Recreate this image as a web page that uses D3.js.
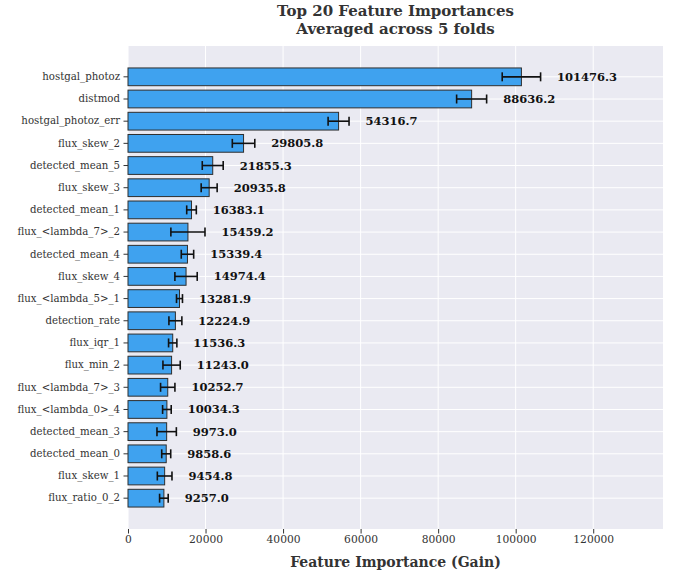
<!DOCTYPE html>
<html>
<head>
<meta charset="utf-8">
<script src="https://cdn.jsdelivr.net/npm/d3@7"></script>
<style>
  html, body { margin: 0; padding: 0; background: #ffffff; }
  svg { display: block; font-family: "DejaVu Serif", serif; }
  svg text { font-family: "DejaVu Serif", serif; }
</style>
</head>
<body>
<svg id="chart" width="678" height="576"></svg>
<script>
// Feature importances (gain), averaged over 5 CV folds, with fold std
const features = [
  "hostgal_photoz", "distmod", "hostgal_photoz_err", "flux_skew_2",
  "detected_mean_5", "flux_skew_3", "detected_mean_1", "flux_<lambda_7>_2",
  "detected_mean_4", "flux_skew_4", "flux_<lambda_5>_1", "detection_rate",
  "flux_iqr_1", "flux_min_2", "flux_<lambda_7>_3", "flux_<lambda_0>_4",
  "detected_mean_3", "detected_mean_0", "flux_skew_1", "flux_ratio_0_2"
];
const meanGain = [
  101476.3, 88636.2, 54316.7, 29805.8,
  21855.3, 20935.8, 16383.1, 15459.2,
  15339.4, 14974.4, 13281.9, 12224.9,
  11536.3, 11243.0, 10252.7, 10034.3,
  9973.0, 9858.6, 9454.8, 9257.0
];
const stdGain = [
  4950, 3870, 2700, 2900,
  2700, 2060, 1240, 4400,
  1600, 2880, 770, 1670,
  1070, 2230, 1850, 1110,
  2500, 1160, 1890, 1110
];
const xTicks = [0, 20000, 40000, 60000, 80000, 100000, 120000];

const svg = d3.select("#chart");
const m = { left: 128, right: 663, top: 46, bottom: 529 };

const x = d3.scaleLinear().domain([0, 138000]).range([m.left, m.right]);
const y = d3.scaleBand().domain(features).range([m.top, m.bottom])
  .paddingInner(0.2).paddingOuter(0.99);

// plot background
svg.append("rect")
  .attr("x", m.left).attr("y", m.top)
  .attr("width", m.right - m.left).attr("height", m.bottom - m.top)
  .attr("fill", "#eaeaf2");

// grid
const grid = svg.append("g").attr("stroke", "#ffffff").attr("stroke-width", 1);
grid.selectAll("line.v").data(xTicks).join("line")
  .attr("class", "v")
  .attr("x1", d => x(d)).attr("x2", d => x(d))
  .attr("y1", m.top).attr("y2", m.bottom);
grid.selectAll("line.h").data(features).join("line")
  .attr("class", "h")
  .attr("x1", m.left).attr("x2", m.right)
  .attr("y1", d => y(d) + y.bandwidth() / 2).attr("y2", d => y(d) + y.bandwidth() / 2);

// bars
svg.append("g").selectAll("rect").data(features).join("rect")
  .attr("x", x(0))
  .attr("y", d => y(d))
  .attr("width", (d, i) => x(meanGain[i]) - x(0))
  .attr("height", y.bandwidth())
  .attr("fill", "#3fa2ef")
  .attr("stroke", "#2e2e2e")
  .attr("stroke-width", 1);

// error bars
const err = svg.append("g").attr("stroke", "#111").attr("stroke-width", 1.6);
features.forEach((f, i) => {
  const cy = y(f) + y.bandwidth() / 2;
  const lo = x(meanGain[i] - stdGain[i]);
  const hi = x(meanGain[i] + stdGain[i]);
  err.append("line").attr("x1", lo).attr("x2", hi).attr("y1", cy).attr("y2", cy);
  err.append("line").attr("x1", lo).attr("x2", lo).attr("y1", cy - 4.5).attr("y2", cy + 4.5);
  err.append("line").attr("x1", hi).attr("x2", hi).attr("y1", cy - 4.5).attr("y2", cy + 4.5);
});

// value labels
svg.append("g").selectAll("text").data(features).join("text")
  .attr("x", (d, i) => x(meanGain[i] + stdGain[i]) + 16.5)
  .attr("y", d => y(d) + y.bandwidth() / 2)
  .attr("dy", "0.35em")
  .attr("font-size", "11.5px")
  .attr("font-weight", "bold")
  .attr("fill", "#111")
  .text((d, i) => meanGain[i].toFixed(1));

// axes
const xAxis = svg.append("g")
  .attr("transform", `translate(0,${m.bottom})`)
  .call(d3.axisBottom(x).tickValues(xTicks).tickFormat(d3.format("d")).tickSize(4.5).tickPadding(2));
xAxis.select(".domain").remove();
xAxis.attr("font-family", null);
xAxis.selectAll("line").attr("stroke", "#333");
xAxis.selectAll("text").attr("font-size", "10.7px").attr("fill", "#333");

const yAxis = svg.append("g")
  .attr("transform", `translate(${m.left},0)`)
  .call(d3.axisLeft(y).tickSize(4.5).tickPadding(3.5));
yAxis.select(".domain").remove();
yAxis.attr("font-family", null);
yAxis.selectAll("line").attr("stroke", "#333");
yAxis.selectAll("text").attr("font-size", "10.2px").attr("fill", "#333");

// axis title
svg.append("text")
  .attr("x", (m.left + m.right) / 2).attr("y", 566.5)
  .attr("text-anchor", "middle")
  .attr("font-size", "14px").attr("font-weight", "bold").attr("fill", "#333")
  .text("Feature Importance (Gain)");

// chart title, two lines
const title = svg.append("text")
  .attr("x", (m.left + m.right) / 2).attr("text-anchor", "middle")
  .attr("font-size", "15px").attr("font-weight", "bold").attr("fill", "#333");
title.append("tspan").attr("x", (m.left + m.right) / 2).attr("y", 16.3).text("Top 20 Feature Importances");
title.append("tspan").attr("x", (m.left + m.right) / 2).attr("y", 34).text("Averaged across 5 folds");
</script>
</body>
</html>
